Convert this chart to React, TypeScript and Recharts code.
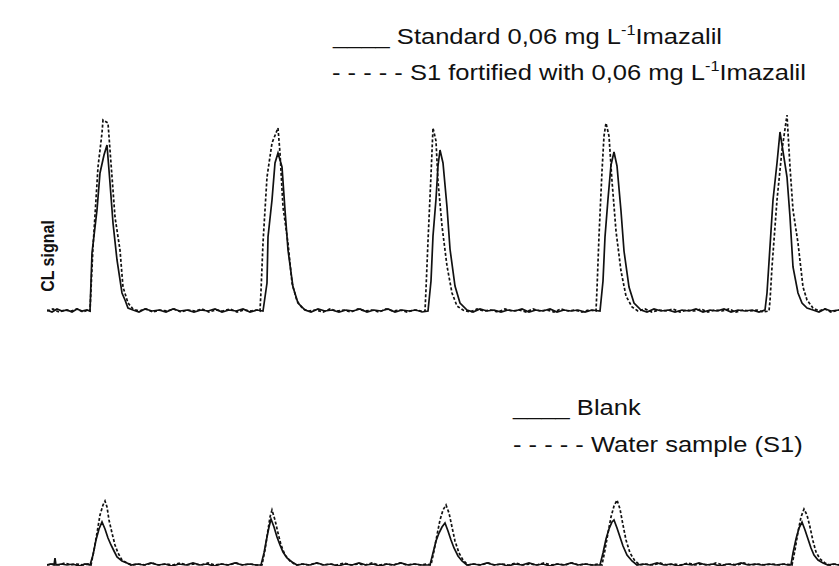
import { LineChart, Line, XAxis, YAxis } from "recharts";

// ─── Data (time in arbitrary units, CL signal in arbitrary units) ─────────────

type Pt = [number, number];

// Upper panel: standard 0,06 mg/L Imazalil (solid)
const standardTrace: Pt[] = [
  [0, 1], [5, -1], [10, 2], [15, 0], [20, 1], [25, -1], [30, 2], [35, 0], [40, 1],
  [43, 0], [45, 58], [50, 101], [53, 138], [57, 156], [60, 166], [63, 128], [66, 88], [70, 51], [75, 18], [78, 11], [81, 3],
  [86, 1], [92, -1], [98, 2], [105, 0], [112, 1], [119, -1], [126, 2], [133, 0], [140, 1], [147, -1], [154, 1], [161, 0], [168, 2], [175, -1], [182, 1], [189, 0], [196, 2], [203, -1], [210, 1],
  [216, 0], [220, 28], [221, 74], [225, 111], [228, 148], [231, 158], [235, 144], [238, 101], [241, 61], [246, 24], [251, 8], [258, 1],
  [264, -1], [271, 2], [278, 0], [285, 1], [292, -1], [299, 1], [306, 0], [313, 2], [320, -1], [327, 1], [334, 0], [341, 2], [348, -1], [355, 1], [362, 0], [369, 1], [375, -1],
  [381, 0], [384, 30], [386, 75], [389, 112], [391, 145], [393, 161], [396, 148], [400, 104], [403, 62], [408, 25], [413, 8], [420, 1],
  [426, -1], [433, 2], [440, 0], [447, 1], [454, -1], [461, 1], [468, 0], [475, 2], [482, -1], [489, 1], [496, 0], [503, 2], [510, -1], [517, 1], [524, 0], [531, 1], [538, -1], [545, 1],
  [553, 0], [556, 30], [558, 74], [561, 112], [564, 146], [567, 159], [570, 145], [574, 100], [577, 60], [582, 24], [587, 8], [594, 1],
  [600, -1], [607, 2], [614, 0], [621, 1], [628, -1], [635, 1], [642, 0], [649, 2], [656, -1], [663, 1], [670, 0], [677, 2], [684, -1], [691, 1], [698, 0], [705, 1], [712, -1], [718, 1],
  [720, 18], [726, 111], [730, 148], [733, 179], [740, 134], [743, 94], [746, 44], [751, 18], [755, 8], [760, 3],
  [766, 1], [772, -1], [778, 2], [784, 0], [792, 1],
];

// Upper panel: S1 fortified with 0,06 mg/L Imazalil (dashed)
const fortifiedTrace: Pt[] = [
  [0, 0], [6, 2], [12, -1], [18, 1], [24, 0], [30, 2], [36, -1], [41, 1],
  [43, 0], [46, 64], [51, 144], [55, 178], [56, 191], [61, 188], [63, 161], [68, 94], [73, 61], [76, 24], [81, 8], [86, 2],
  [92, 0], [99, 2], [106, -1], [113, 1], [120, 0], [127, 2], [134, -1], [141, 1], [148, 0], [155, 2], [162, -1], [169, 1], [176, 0], [183, 2], [190, -1], [197, 1], [204, 0], [210, 1],
  [213, 0], [214, 20], [216, 68], [220, 134], [225, 168], [231, 183], [233, 158], [236, 104], [241, 68], [245, 28], [250, 10], [256, 2],
  [262, 0], [269, 1], [276, -1], [283, 2], [290, 0], [297, 1], [304, -1], [311, 2], [318, 0], [325, 1], [332, -1], [339, 2], [346, 0], [353, 1], [360, -1], [367, 1], [374, 0],
  [378, 0], [379, 22], [381, 70], [384, 136], [386, 183], [389, 170], [391, 130], [395, 85], [400, 45], [405, 18], [410, 5],
  [416, 1], [423, -1], [430, 2], [437, 0], [444, 1], [451, -1], [458, 2], [465, 0], [472, 1], [479, -1], [486, 2], [493, 0], [500, 1], [507, -1], [514, 2], [521, 0], [528, 1], [535, -1], [542, 1],
  [549, 0], [550, 22], [552, 75], [555, 140], [557, 175], [559, 188], [562, 175], [565, 130], [569, 80], [574, 40], [579, 15], [585, 4],
  [591, 0], [598, 2], [605, -1], [612, 1], [619, 0], [626, 2], [633, -1], [640, 1], [647, 0], [654, 2], [661, -1], [668, 1], [675, 0], [682, 2], [689, -1], [696, 1], [703, 0], [710, 1], [716, -1],
  [722, 0], [723, 10], [725, 44], [730, 111], [735, 161], [740, 196], [743, 144], [746, 101], [751, 68], [756, 24], [760, 11], [766, 3],
  [772, 0], [778, 2], [784, -1], [792, 1],
];

// Lower panel: blank (solid)
const blankTrace: Pt[] = [
  [0, 0], [4, 1], [7, 0], [8, 7], [9, 0], [14, 1], [20, 0], [26, 1], [32, -1], [38, 1],
  [43, 0], [46, 10], [49, 25], [52, 36], [55, 43], [58, 36], [61, 27], [64, 20], [67, 14], [70, 8], [75, 4], [80, 2], [84, 0],
  [90, 1], [97, 0], [104, 2], [111, 0], [118, 1], [125, -1], [132, 1], [139, 0], [146, 2], [153, 0], [160, 1], [167, -1], [174, 1], [181, 0], [188, 2], [195, 0], [202, 1], [209, 0],
  [214, 0], [217, 12], [220, 28], [222, 38], [224, 46], [227, 38], [230, 28], [233, 20], [236, 13], [240, 7], [245, 3], [250, 0],
  [256, 1], [263, 0], [270, 2], [277, 0], [284, 1], [291, -1], [298, 1], [305, 0], [312, 2], [319, 0], [326, 1], [333, -1], [340, 1], [347, 0], [354, 2], [361, 0], [368, 1], [375, 0],
  [383, 0], [386, 12], [389, 24], [392, 32], [395, 38], [398, 42], [401, 34], [404, 25], [407, 17], [411, 9], [415, 4], [420, 0],
  [426, 1], [433, 0], [440, 2], [447, 0], [454, 1], [461, -1], [468, 1], [475, 0], [482, 2], [489, 0], [496, 1], [503, -1], [510, 1], [517, 0], [524, 2], [531, 0], [538, 1], [545, 0],
  [553, 0], [556, 12], [559, 26], [562, 36], [565, 43], [567, 45], [570, 37], [573, 28], [576, 19], [580, 10], [585, 4], [590, 0],
  [596, 1], [603, 0], [610, 2], [617, 0], [624, 1], [631, -1], [638, 1], [645, 0], [652, 2], [659, 0], [666, 1], [673, -1], [680, 1], [687, 0], [694, 2], [701, 0], [708, 1], [715, 0], [722, 1], [729, 0], [736, 1], [741, 0],
  [744, 0], [746, 12], [749, 26], [752, 37], [755, 43], [758, 35], [761, 26], [764, 17], [767, 10], [771, 5], [776, 2], [781, 0],
  [786, 1], [792, 0],
];

// Lower panel: water sample S1 (dashed)
const waterTrace: Pt[] = [
  [0, 0], [6, 1], [12, 0], [18, 2], [24, 0], [30, 1], [36, 0], [41, 1],
  [44, 0], [47, 15], [50, 32], [53, 50], [56, 60], [58, 64], [60, 58], [62, 45], [65, 32], [68, 20], [71, 12], [75, 5], [80, 2], [85, 0],
  [91, 1], [98, 0], [105, 2], [112, 0], [119, 1], [126, 0], [133, 2], [140, 0], [147, 1], [154, 0], [161, 2], [168, 0], [175, 1], [182, 0], [189, 2], [196, 0], [203, 1], [210, 0],
  [215, 0], [218, 15], [221, 35], [223, 48], [225, 55], [228, 45], [231, 32], [234, 20], [238, 10], [243, 4], [249, 0],
  [255, 1], [262, 0], [269, 2], [276, 0], [283, 1], [290, 0], [297, 2], [304, 0], [311, 1], [318, 0], [325, 2], [332, 0], [339, 1], [346, 0], [353, 2], [360, 0], [367, 1], [374, 0], [380, 1],
  [384, 0], [387, 14], [390, 30], [393, 45], [396, 55], [399, 60], [402, 52], [405, 38], [408, 24], [412, 12], [416, 5], [421, 0],
  [427, 1], [434, 0], [441, 2], [448, 0], [455, 1], [462, 0], [469, 2], [476, 0], [483, 1], [490, 0], [497, 2], [504, 0], [511, 1], [518, 0], [525, 2], [532, 0], [539, 1], [546, 0], [551, 1],
  [555, 0], [558, 15], [561, 32], [564, 48], [567, 59], [570, 65], [573, 56], [576, 40], [579, 25], [583, 12], [588, 4], [593, 0],
  [599, 1], [606, 0], [613, 2], [620, 0], [627, 1], [634, 0], [641, 2], [648, 0], [655, 1], [662, 0], [669, 2], [676, 0], [683, 1], [690, 0], [697, 2], [704, 0], [711, 1], [718, 0], [725, 1], [732, 0], [738, 1],
  [745, 0], [748, 15], [751, 33], [754, 48], [757, 56], [760, 50], [763, 38], [766, 24], [769, 13], [773, 6], [778, 2], [783, 0],
  [788, 1], [792, 0],
];

const timeDomain: [number, number] = [0, 792];

// ─── Helpers ──────────────────────────────────────────────────────────────────

const toPoints = (arr: Pt[]) => arr.map(([x, y]) => ({ x, y }));

const FONT = "'Liberation Sans', Arial, sans-serif";
const INK = "#111";

interface PanelProps {
  top: number;
  height: number;
  yDomain: [number, number];
  solid: Pt[];
  dashed: Pt[];
}

function Panel({ top, height, yDomain, solid, dashed }: PanelProps) {
  return (
    <div style={{ position: "absolute", left: 47, top }}>
      <LineChart width={792} height={height} margin={{ top: 0, right: 0, bottom: 0, left: 0 }}>
        <XAxis dataKey="x" type="number" domain={timeDomain} hide allowDataOverflow />
        <YAxis type="number" domain={yDomain} hide allowDataOverflow />
        <Line
          data={toPoints(solid)}
          dataKey="y"
          type="linear"
          stroke={INK}
          strokeWidth={1.7}
          dot={false}
          isAnimationActive={false}
        />
        <Line
          data={toPoints(dashed)}
          dataKey="y"
          type="linear"
          stroke={INK}
          strokeWidth={1.7}
          strokeDasharray="3 2"
          dot={false}
          isAnimationActive={false}
        />
      </LineChart>
    </div>
  );
}

interface LegendLineProps {
  left: number;
  top: number;
  marker: string;
  children: React.ReactNode;
}

function LegendLine({ left, top, marker, children }: LegendLineProps) {
  return (
    <div
      style={{
        position: "absolute",
        left,
        top,
        fontFamily: FONT,
        fontSize: 22,
        lineHeight: "22px",
        color: INK,
        whiteSpace: "pre",
        transform: "scaleX(1.16)",
        transformOrigin: "left top",
      }}
    >
      {marker}
      {children}
    </div>
  );
}

const Sup = () => (
  <span style={{ fontSize: 14, position: "relative", top: -9 }}>-1</span>
);

// ─── Component ────────────────────────────────────────────────────────────────

export default function App() {
  return (
    <div
      style={{
        position: "fixed",
        left: 0,
        top: 0,
        width: 839,
        height: 566,
        background: "#fff",
        overflow: "hidden",
      }}
    >
      {/* Legends */}
      <LegendLine left={333} top={26} marker="____ ">
        Standard 0,06 mg L<Sup />Imazalil
      </LegendLine>
      <LegendLine left={332} top={62} marker="- - - - - ">
        S1 fortified with 0,06 mg L<Sup />Imazalil
      </LegendLine>
      <LegendLine left={513} top={397} marker="____ ">
        Blank
      </LegendLine>
      <LegendLine left={513} top={434} marker="- - - - - ">
        Water sample (S1)
      </LegendLine>

      {/* Y label */}
      <div
        style={{
          position: "absolute",
          left: 48,
          top: 256,
          transform: "translate(-50%, -50%) rotate(-90deg) scaleY(1.2)",
          fontFamily: FONT,
          fontWeight: "bold",
          fontSize: 16,
          color: INK,
          whiteSpace: "nowrap",
        }}
      >
        CL signal
      </div>

      {/* Panels */}
      <Panel top={100} height={215} yDomain={[-4, 211]} solid={standardTrace} dashed={fortifiedTrace} />
      <Panel top={480} height={90} yDomain={[-5, 85]} solid={blankTrace} dashed={waterTrace} />
    </div>
  );
}
